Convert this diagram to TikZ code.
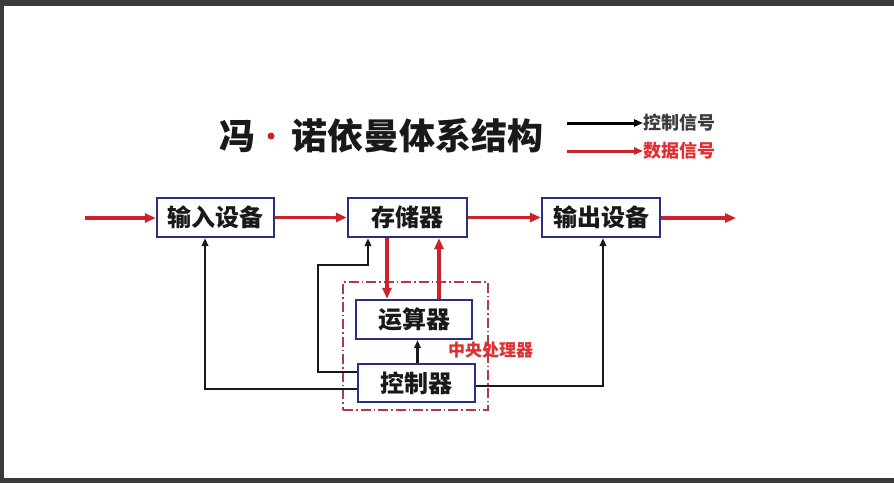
\documentclass[tikz,border=0pt]{standalone}
\usepackage{fontspec}
\newfontfamily\cjk{Noto Sans CJK SC}
\usetikzlibrary{arrows.meta}
\definecolor{frameGray}{RGB}{58,58,58}
\definecolor{dataRed}{RGB}{204,34,41}
\definecolor{boxBlue}{RGB}{43,46,131}
\definecolor{cpuRed}{RGB}{176,58,72}
\definecolor{labelRed}{RGB}{222,48,48}
\definecolor{ink}{RGB}{25,25,25}
\tikzset{
  box/.style={draw=boxBlue, line width=2.3pt, fill=white, inner sep=0pt,
    minimum width=117pt, minimum height=39pt, text=ink,
    font=\cjk\bfseries\fontsize{24}{24}\selectfont},
  data/.style={draw=dataRed, line width=3.5pt, -{Triangle[length=11pt,width=9pt]}},
  ctrl/.style={draw=black!90, line width=2.5pt, -{Triangle[length=8pt,width=6.5pt]}},
  legline/.style={line width=3pt, -{Triangle[length=9pt,width=7pt]}},
  cpuframe/.style={draw=cpuRed, line width=1.3pt, dash pattern=on 10pt off 3pt on 1.5pt off 3pt,
    inner sep=0pt},
}
\begin{document}
\begin{tikzpicture}[x=1pt,y=-1pt]
\useasboundingbox (0,0) rectangle (894,483);
\fill[frameGray] (0,0) rectangle (894,483);
\fill[white] (4,6) rectangle (894,478);

% title
\node[font=\cjk\bfseries\fontsize{36}{36}\selectfont, text=ink] (t1) at (237,136) {冯};
\node[circle, fill=dataRed, inner sep=0pt, minimum size=7pt] (dot) at (271,136) {};
\node[font=\cjk\bfseries\fontsize{36}{36}\selectfont, text=ink, anchor=west, inner sep=0pt] (t2) at (291,136) {诺依曼体系结构};

% legend
\coordinate (l1) at (567,123);
\coordinate (l2) at (567,151);
\node[font=\cjk\bfseries\fontsize{18}{18}\selectfont, text=ink!85, anchor=west, inner sep=0pt] (lc) at (643,123) {控制信号};
\node[font=\cjk\bfseries\fontsize{18}{18}\selectfont, text=labelRed, anchor=west, inner sep=0pt] (ld) at (643,151) {数据信号};
\draw[legline, black] (l1) -- (lc.west);
\draw[legline, dataRed] (l2) -- (ld.west);

% cpu frame
\node[cpuframe, minimum width=145pt, minimum height=128pt] (cpu) at (415.5,346) {};
\node[font=\cjk\bfseries\fontsize{17}{17}\selectfont, text=labelRed] (cpulabel) at (490.5,350) {中央处理器};

% boxes
\node[box] (inp) at (215.5,217.5) {输入设备};
\node[box, minimum width=119pt] (mem) at (407.5,217.5) {存储器};
\node[box, minimum width=118pt] (out) at (601,217.5) {输出设备};
\node[box, minimum width=116pt] (alu) at (414,319.5) {运算器};
\node[box, minimum height=38pt] (ctl) at (416.5,383) {控制器};

% data connectors
\coordinate (din) at (85,218);
\coordinate (dout) at (736,218);
\draw[data] (din) -- (din -| inp.west);
\draw[data] (inp) -- (mem);
\draw[data] (mem) -- (out);
\draw[data] (out.east |- dout) -- (dout);
\coordinate (xa) at (387,0);
\coordinate (xb) at (439,0);
\draw[data] (mem.south -| xa) -- (alu.north -| xa);
\draw[data] (alu.north -| xb) -- (mem.south -| xb);

% control connectors
\coordinate (c1) at (205,389);
\draw[ctrl] (ctl.west |- c1) -- (c1) -- (c1 |- inp.south);
\coordinate (c2) at (318,372);
\coordinate (c3) at (368,265);
\draw[ctrl] (ctl.west |- c2) -- (c2) -- (c2 |- c3) -- (c3) -- (c3 |- mem.south);
\coordinate (c4) at (417.5,0);
\draw[ctrl] (ctl.north -| c4) -- (alu.south -| c4);
\coordinate (c5) at (603,386);
\draw[ctrl] (ctl.east |- c5) -- (c5) -- (c5 |- out.south);
\end{tikzpicture}
\end{document}
